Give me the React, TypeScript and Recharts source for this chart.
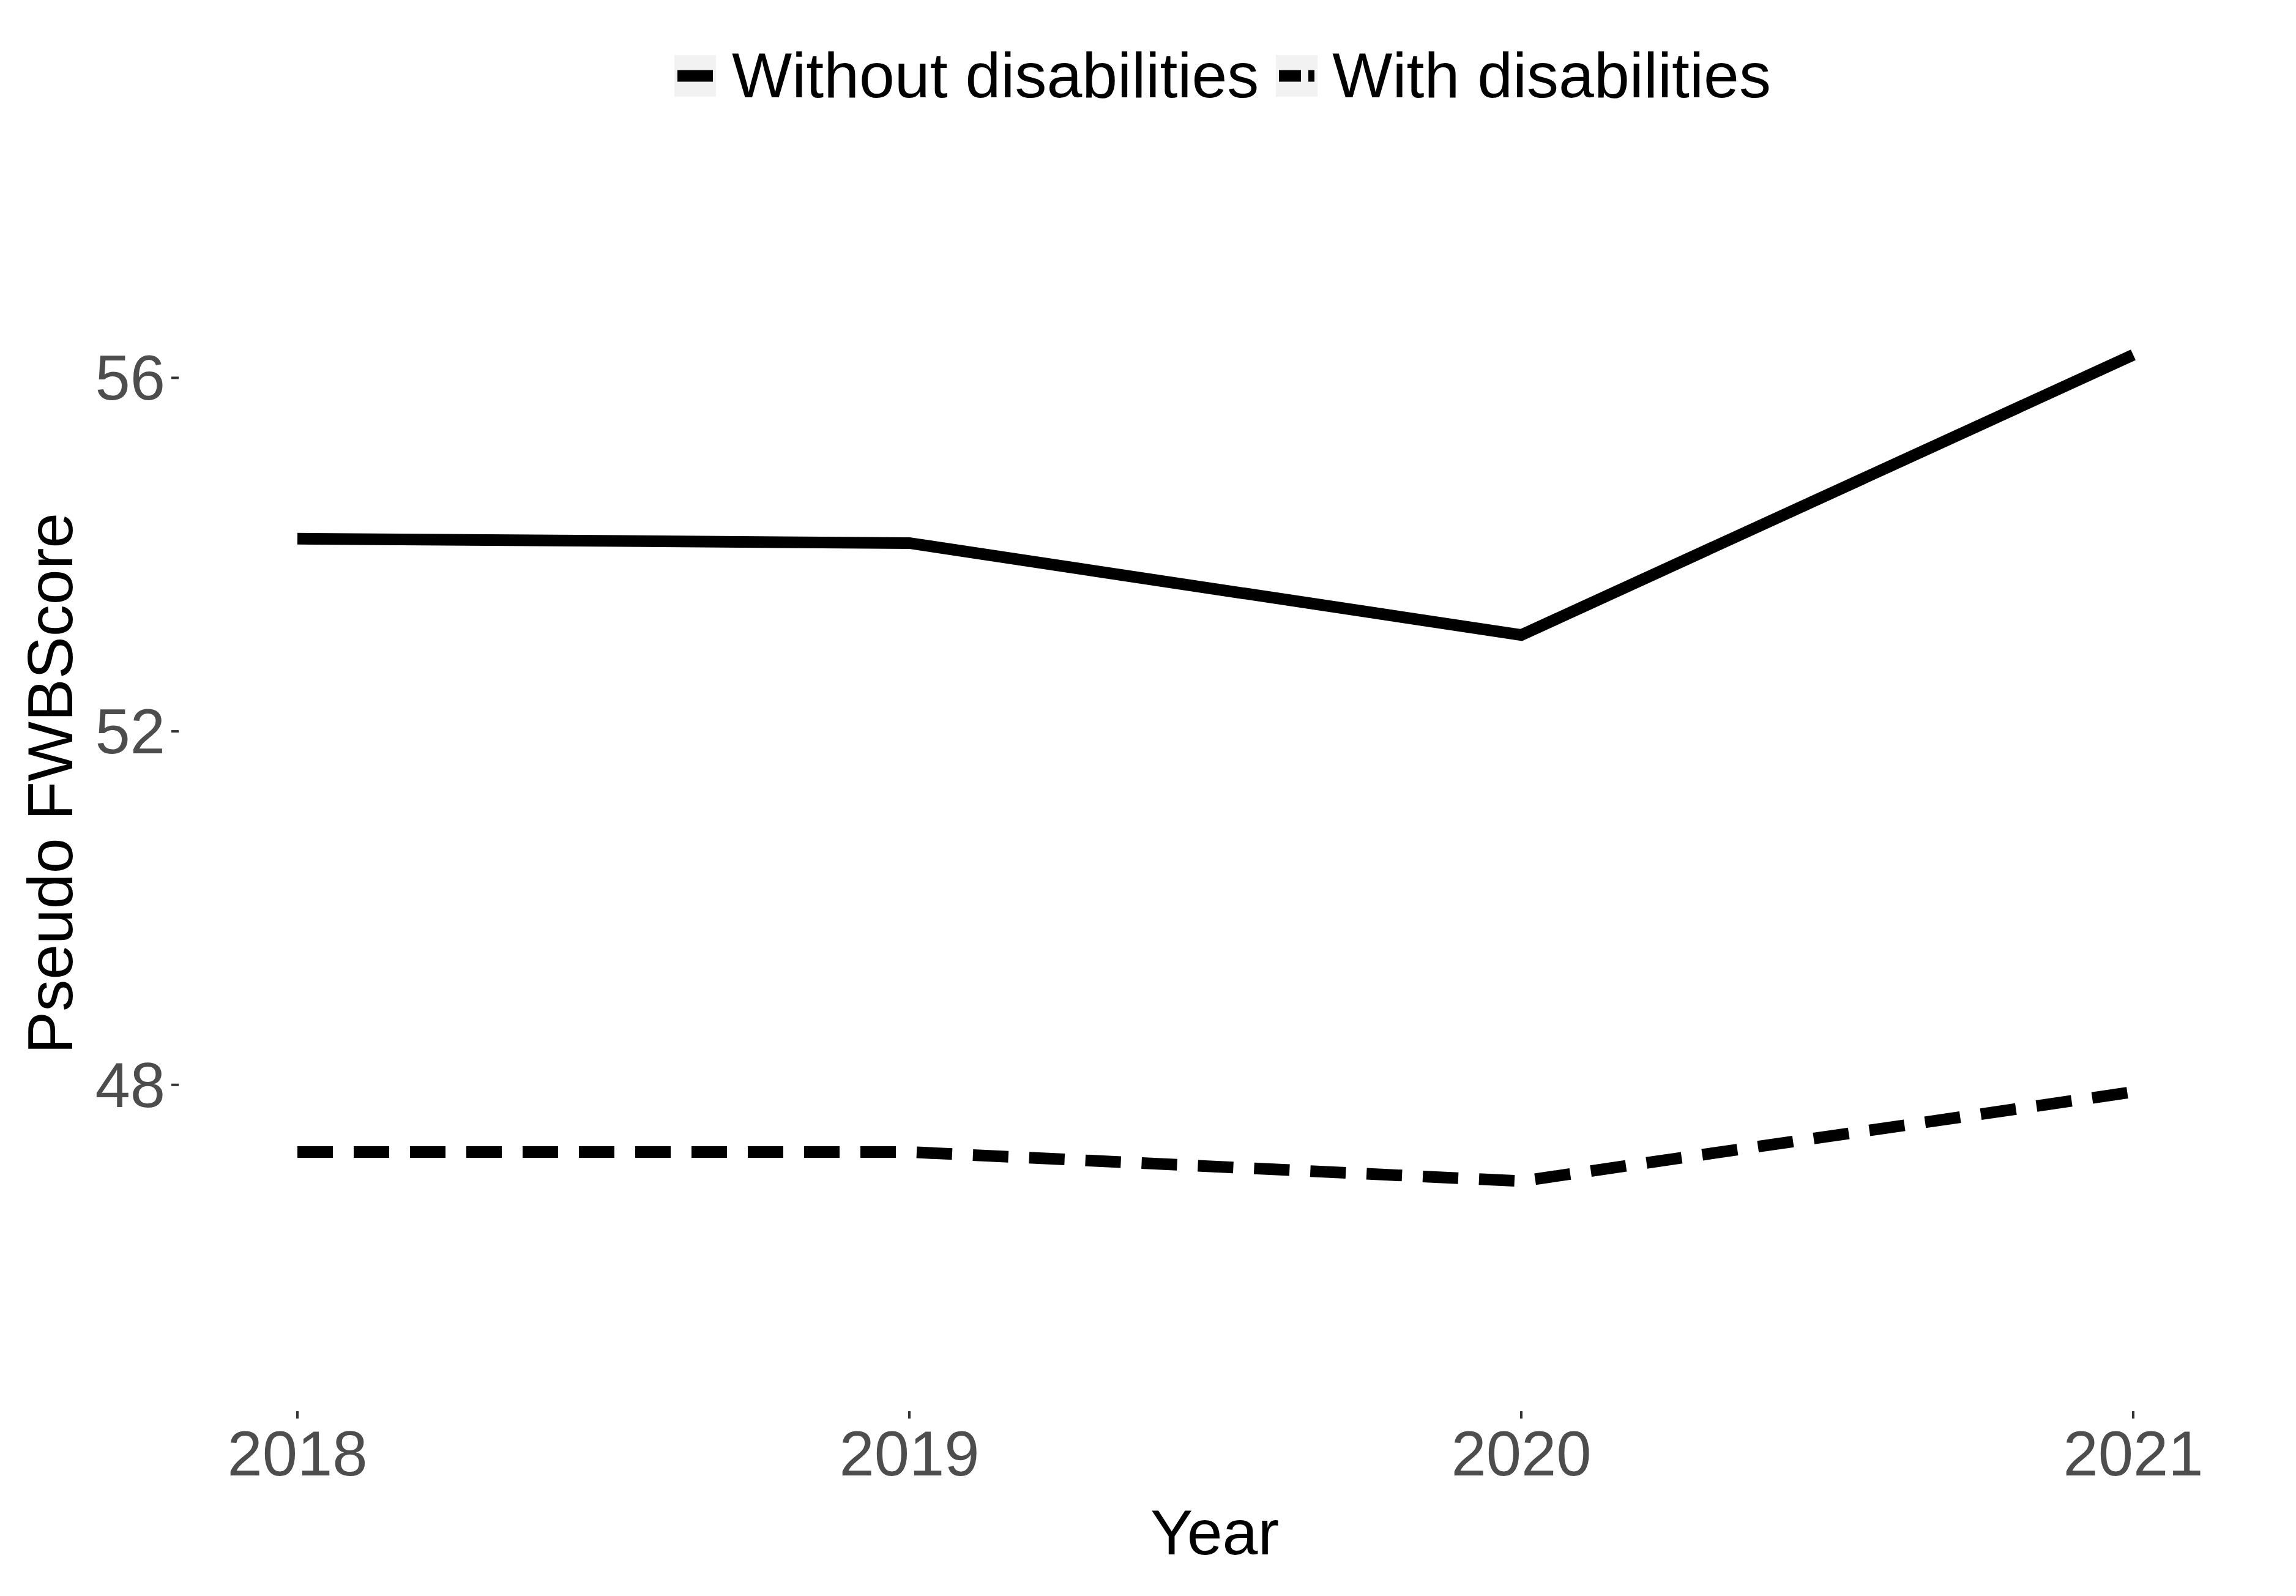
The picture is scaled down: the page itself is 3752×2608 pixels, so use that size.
import React from "react";
import { LineChart, Line, XAxis, YAxis } from "recharts";

const years = [2018, 2019, 2020, 2021];
const withoutDis = [54.18, 54.13, 53.09, 56.26];
const withDis = [47.24, 47.24, 46.91, 47.92];
const yTicks = [48, 52, 56];
const data = years.map((y, i) => ({ year: y, without: withoutDis[i], with: withDis[i] }));

const FONT = "Arial, 'Liberation Sans', sans-serif";

const YTick = (p: any) => {
  const { x, y, payload } = p;
  return (
    <g>
      <line x1={x - 48} x2={x - 36} y1={y} y2={y} stroke="#333" strokeWidth={4} />
      <text x={x - 58} y={y} dy={36} textAnchor="end" fontSize={103} fill="#4d4d4d" fontFamily={FONT}>{payload.value}</text>
    </g>
  );
};

const XTick = (p: any) => {
  const { x, y, payload } = p;
  return (
    <g>
      <line x1={x} x2={x} y1={y + 300} y2={y + 312} stroke="#333" strokeWidth={4} />
      <text x={x} y={y + 405} textAnchor="middle" fontSize={103} fill="#4d4d4d" fontFamily={FONT}>{payload.value}</text>
    </g>
  );
};

const Key = ({ dashed }: { dashed: boolean }) => (
  <svg width={68} height={68} style={{ display: "block" }}>
    <rect width={68} height={68} fill="#f2f2f2" />
    {dashed ? (
      <line x1={5} x2={63} y1={34} y2={34} stroke="#000" strokeWidth={19} strokeDasharray="36 12" />
    ) : (
      <line x1={5} x2={63} y1={34} y2={34} stroke="#000" strokeWidth={19} />
    )}
  </svg>
);

export default function App() {
  return (
    <div style={{ position: "absolute", left: 0, top: 0, width: 3752, height: 2608, background: "#fff" }}>
      <div style={{ position: "absolute", top: 64, left: 1102, display: "flex", alignItems: "center", fontFamily: FONT, fontSize: 104, color: "#000", whiteSpace: "nowrap" }}>
        <Key dashed={false} />
        <span style={{ marginLeft: 26, marginRight: 28 }}>Without disabilities</span>
        <Key dashed={true} />
        <span style={{ marginLeft: 24 }}>With disabilities</span>
      </div>
      <LineChart width={3752} height={2608} data={data} margin={{ top: 512, right: 116, bottom: 580, left: 0 }}>
        <XAxis dataKey="year" type="number" domain={[2017.85, 2021.15]} ticks={years} axisLine={false} tickLine={false} tick={<XTick />} interval={0} />
        <YAxis type="number" domain={[46.44, 56.73]} ticks={yTicks} width={336} axisLine={false} tickLine={false} tick={<YTick />} />
        <Line dataKey="without" stroke="#000" strokeWidth={19} dot={false} isAnimationActive={false} />
        <Line dataKey="with" stroke="#000" strokeWidth={19} strokeDasharray="58 34" dot={false} isAnimationActive={false} />
        <text x={1985} y={2540} textAnchor="middle" fontSize={104} fontFamily={FONT} fill="#000">Year</text>
        <text x={0} y={0} transform="translate(118,1280) rotate(-90)" textAnchor="middle" fontSize={104} fontFamily={FONT} fill="#000">Pseudo FWBScore</text>
      </LineChart>
    </div>
  );
}
